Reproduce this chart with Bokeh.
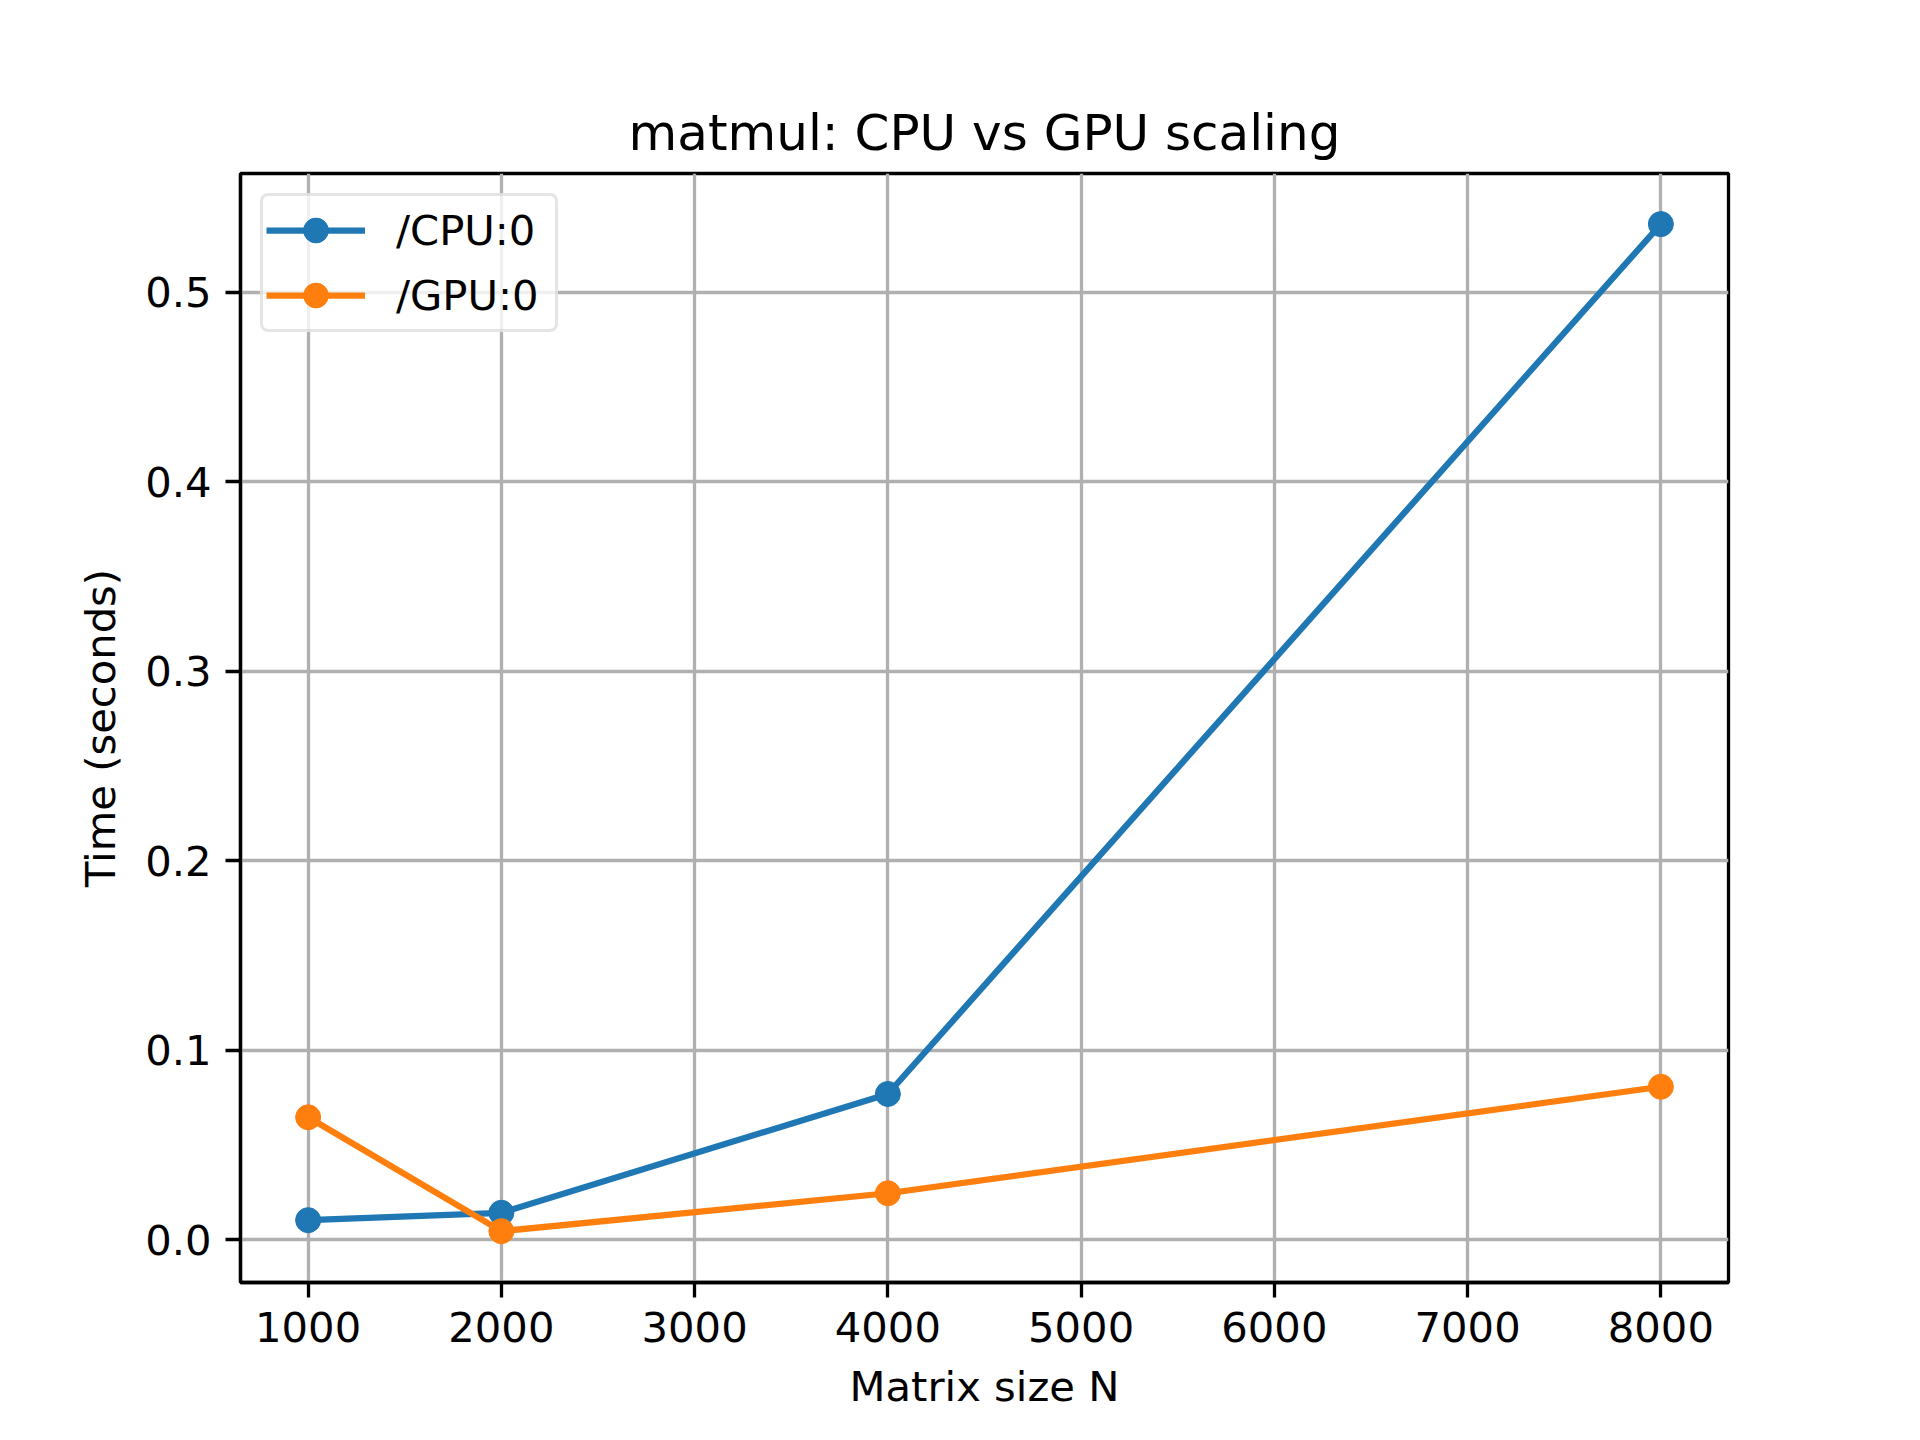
from bokeh.plotting import figure
from bokeh.models import FixedTicker, Range1d, NumeralTickFormatter, Legend
from bokeh.embed import file_html
from bokeh.resources import INLINE

# Data
sizes = [1000, 2000, 4000, 8000]
cpu_times = [0.0103, 0.0142, 0.0769, 0.536]
gpu_times = [0.0646, 0.0045, 0.0245, 0.0807]
x_ticks = [1000, 2000, 3000, 4000, 5000, 6000, 7000, 8000]
y_ticks = [0.0, 0.1, 0.2, 0.3, 0.4, 0.5]
title_text = "matmul: CPU vs GPU scaling"
x_label = "Matrix size N"
y_label = "Time (seconds)"
series_labels = ["/CPU:0", "/GPU:0"]
colors = ["#1f77b4", "#ff7f0e"]

FONT = "DejaVu Sans"
TICK_FS = "41.7px"
LW = 6.25
SPINE = 3.3

p = figure(width=1904, height=1424, output_backend="svg", toolbar_location=None,
           x_range=Range1d(650, 8350), y_range=Range1d(-0.0226, 0.5627),
           min_border_left=240, min_border_right=176, min_border_top=173, min_border_bottom=142,
           background_fill_color="white", border_fill_color="white")

p.title.text = title_text
p.title.align = "center"
p.title.text_font = FONT
p.title.text_font_size = "50px"
p.title.text_font_style = "normal"
p.title.text_color = "black"
p.title.standoff = 24

p.outline_line_color = "black"
p.outline_line_width = SPINE
p.outline_line_alpha = 1.0

for ax in (p.xaxis[0], p.yaxis[0]):
    ax.axis_line_color = "black"
    ax.axis_line_width = SPINE
    ax.major_tick_line_width = SPINE
    ax.major_tick_line_color = "black"
    ax.major_tick_out = 15
    ax.major_tick_in = 0
    ax.minor_tick_line_color = None
    ax.major_label_text_font = FONT
    ax.major_label_text_font_size = TICK_FS
    ax.major_label_text_color = "black"
    ax.major_label_standoff = 14
    ax.axis_label_text_font = FONT
    ax.axis_label_text_font_size = TICK_FS
    ax.axis_label_text_font_style = "normal"
    ax.axis_label_text_color = "black"
    ax.axis_label_standoff = 17

p.xaxis.ticker = FixedTicker(ticks=x_ticks)
p.yaxis.ticker = FixedTicker(ticks=y_ticks)
p.yaxis.formatter = NumeralTickFormatter(format="0.0")
p.xaxis.axis_label = x_label
p.yaxis.axis_label = y_label

p.xgrid.ticker = FixedTicker(ticks=x_ticks)
p.ygrid.ticker = FixedTicker(ticks=y_ticks)
for g in (p.xgrid[0], p.ygrid[0]):
    g.grid_line_color = "#b0b0b0"
    g.grid_line_width = SPINE

items = []
for ys, lab, col in zip([cpu_times, gpu_times], series_labels, colors):
    r1 = p.line(sizes, ys, line_color=col, line_width=LW)
    r2 = p.scatter(sizes, ys, size=25, fill_color=col, line_color=col, marker="circle")
    items.append((lab, [r1, r2]))

legend = Legend(items=items, location="top_left")
legend.margin = 20
legend.padding = 3
legend.spacing = 3
legend.glyph_width = 99
legend.glyph_height = 62
legend.label_height = 41
legend.label_width = 156
legend.label_standoff = 31
legend.label_text_font = FONT
legend.label_text_font_size = TICK_FS
legend.label_text_color = "black"
legend.border_line_color = "#cccccc"
legend.border_line_width = SPINE
legend.border_radius = 8
legend.background_fill_color = "white"
legend.background_fill_alpha = 0.8
p.add_layout(legend, "center")

open("out.html", "w").write(file_html(p, INLINE))
